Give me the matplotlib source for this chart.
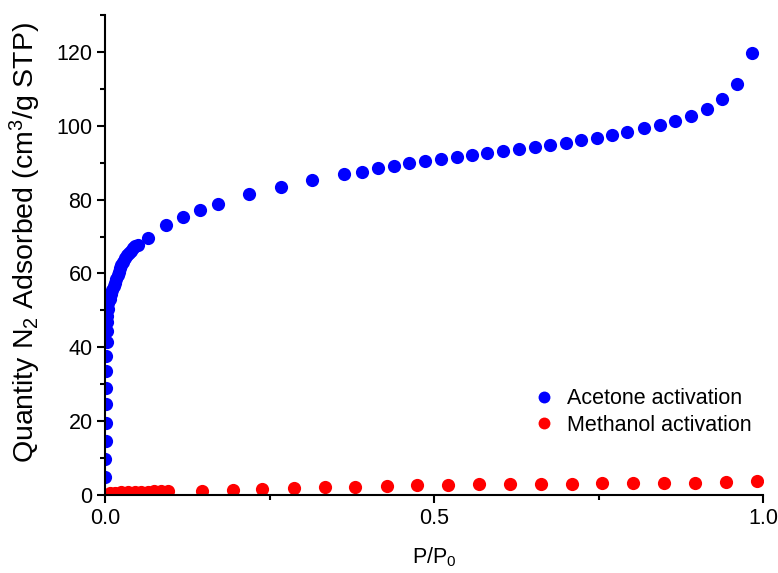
import matplotlib
matplotlib.use("Agg")
import matplotlib.pyplot as plt
from matplotlib.ticker import MultipleLocator

plt.rcParams.update({
    "font.family": ["Liberation Sans", "DejaVu Sans"],
    "font.size": 15.5,
    "mathtext.fontset": "custom",
    "mathtext.rm": "Liberation Sans",
    "mathtext.it": "Liberation Sans",
})

BLUE = "#0000ff"
RED = "#ff0000"

# ── acetone activation isotherm ─────────────────────────────────────────────
acetone_p = [0.0005, 0.0007, 0.0009, 0.0011, 0.0013, 0.0015, 0.0018, 0.0021,
             0.0024, 0.0027, 0.003, 0.0034, 0.004, 0.005, 0.007, 0.009, 0.011,
             0.013, 0.015, 0.017, 0.019, 0.021, 0.023, 0.025, 0.028, 0.031,
             0.034, 0.037, 0.040, 0.043, 0.046, 0.050,
             0.066, 0.093, 0.119, 0.144, 0.172, 0.219, 0.267, 0.315, 0.363,
             0.391, 0.415, 0.439, 0.462, 0.486, 0.511, 0.535, 0.558, 0.581,
             0.605, 0.629, 0.653, 0.676, 0.701, 0.723, 0.748, 0.771, 0.793,
             0.819, 0.843, 0.866, 0.891, 0.915, 0.938, 0.960, 0.983]
acetone_q = [4.9, 9.7, 14.6, 19.5, 24.6, 28.9, 33.5, 37.6,
             41.4, 44.3, 46.8, 48.5, 50.5, 52.0, 53.2, 54.5, 55.5,
             56.5, 57.5, 58.5, 59.5, 60.5, 61.4, 62.2, 63.2, 64.1,
             64.9, 65.6, 66.2, 66.8, 67.3, 67.8,
             69.7, 73.0, 75.4, 77.3, 78.9, 81.4, 83.3, 85.4, 87.0,
             87.6, 88.6, 89.2, 90.0, 90.5, 91.1, 91.6, 92.2, 92.7,
             93.2, 93.8, 94.3, 94.9, 95.4, 96.2, 96.8, 97.6, 98.4,
             99.5, 100.3, 101.4, 102.7, 104.6, 107.3, 111.4, 119.6]

# ── methanol activation isotherm ────────────────────────────────────────────
methanol_p = [0.008, 0.015, 0.025, 0.035, 0.045, 0.055, 0.065, 0.075, 0.085,
              0.095, 0.147, 0.195, 0.239, 0.287, 0.334, 0.380, 0.429, 0.474,
              0.521, 0.568, 0.616, 0.663, 0.710, 0.755, 0.802, 0.850, 0.897,
              0.944, 0.991]
methanol_q = [0.5, 0.6, 0.7, 0.8, 0.8, 0.9, 0.9, 1.0, 1.0,
              1.0, 1.1, 1.4, 1.6, 2.0, 2.2, 2.3, 2.4, 2.6,
              2.7, 2.9, 3.0, 3.0, 3.1, 3.2, 3.2, 3.2, 3.3,
              3.5, 3.9]

fig = plt.figure(figsize=(7.78, 5.73), dpi=100)
ax = fig.add_axes([0.135, 0.136, 0.846, 0.838])

ax.plot(acetone_p, acetone_q, "o", color=BLUE, ms=9.5, mew=0,
        label="Acetone activation")
ax.plot(methanol_p, methanol_q, "o", color=RED, ms=9.5, mew=0,
        label="Methanol activation")

ax.set_xlim(0, 1.0)
ax.set_ylim(0, 130)
ax.xaxis.set_minor_locator(MultipleLocator(0.25))
ax.yaxis.set_minor_locator(MultipleLocator(10))
ax.set_xticks([0, 0.5, 1.0])
ax.set_xticklabels(["0.0", "0.5", "1.0"])
ax.set_yticks([0, 20, 40, 60, 80, 100, 120])

for side in ("top", "right"):
    ax.spines[side].set_visible(False)
for side in ("left", "bottom"):
    ax.spines[side].set_linewidth(1.5)
ax.tick_params(which="major", direction="out", length=6, width=1.5, pad=3)
ax.tick_params(which="minor", direction="out", length=3.5, width=1.5)

ax.set_xlabel(r"P/P$_0$", labelpad=12)
ax.set_ylabel(r"Quantity N$_2$ Adsorbed (cm$^3$/g STP)", fontsize=20.5)
ax.yaxis.set_label_coords(-0.094, 0.525)

ax.legend(loc="upper left", bbox_to_anchor=(0.63, 0.24), frameon=False,
          handletextpad=0.3, labelspacing=0.25, handlelength=1.5,
          markerscale=0.9, borderaxespad=0)

fig.savefig("out.png", dpi=100)
